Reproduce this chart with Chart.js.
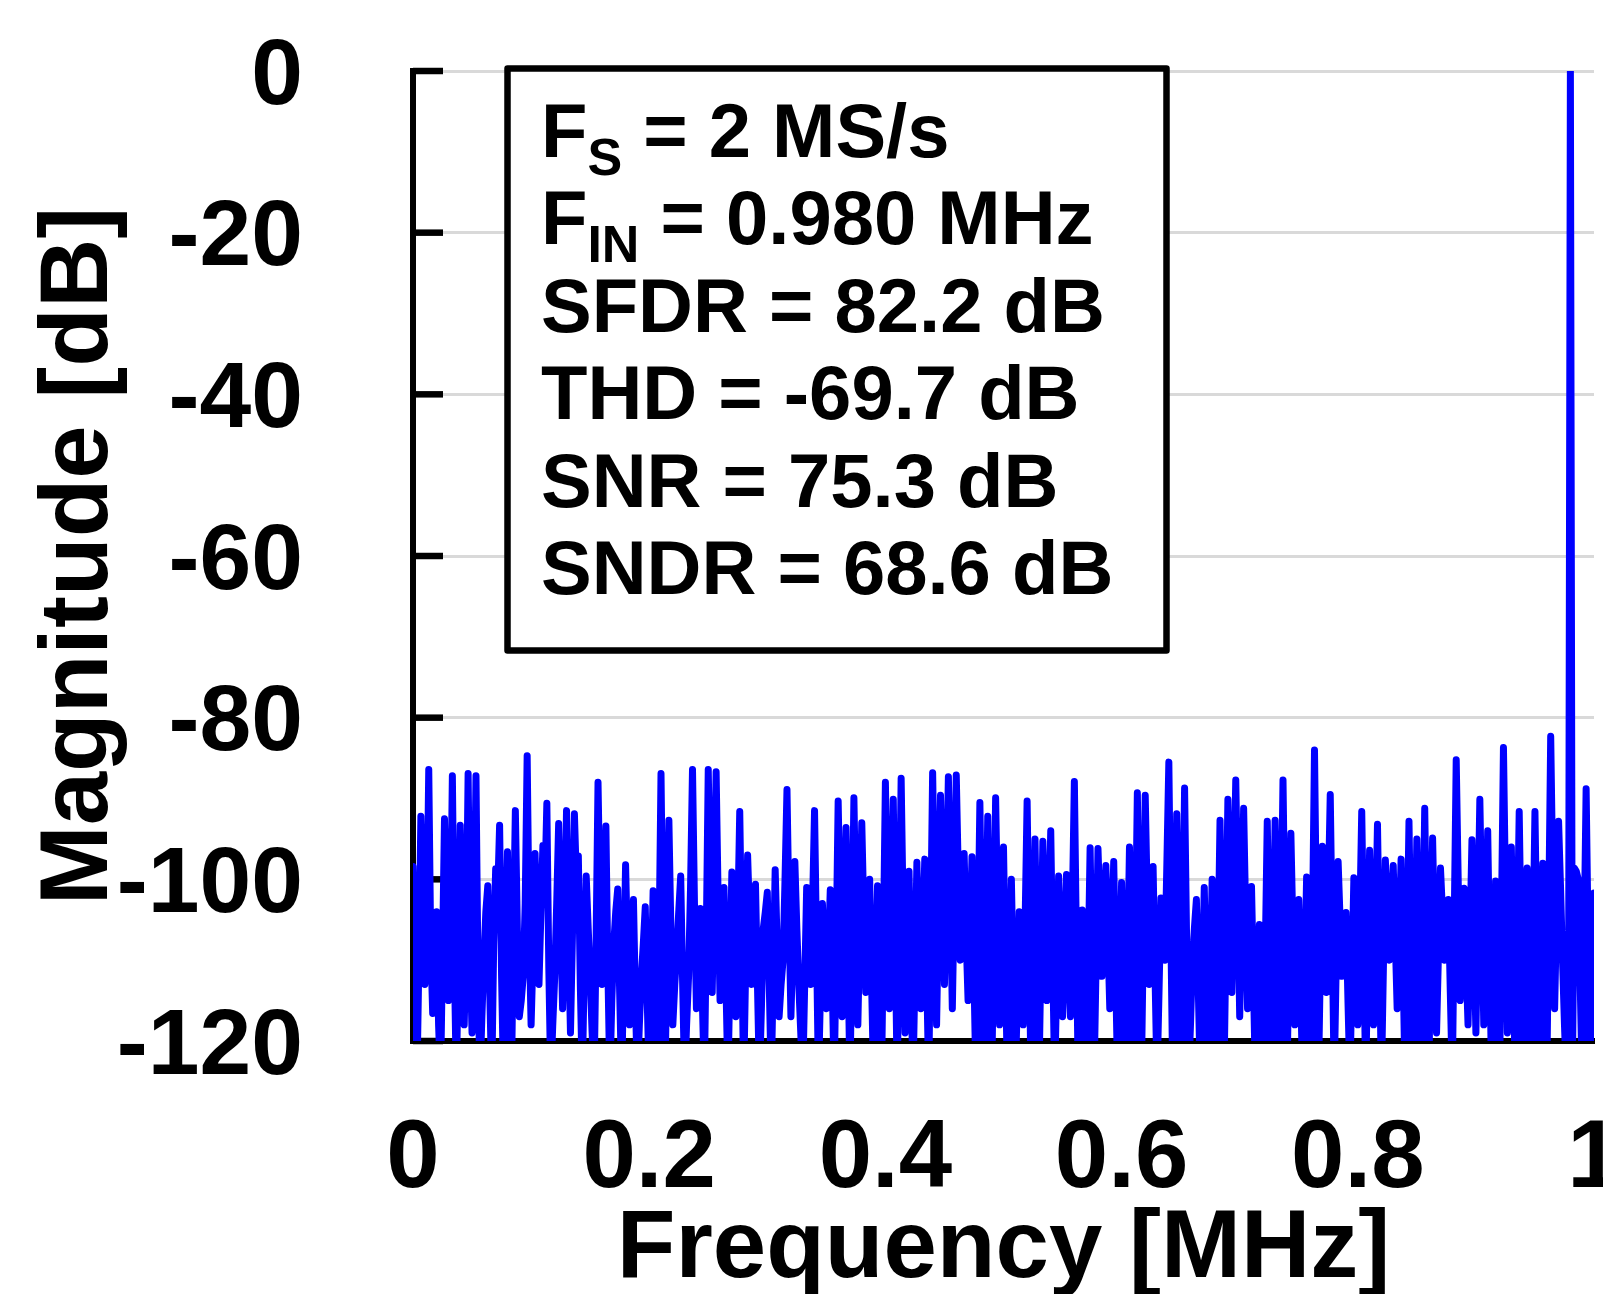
<!DOCTYPE html>
<html>
<head>
<meta charset="utf-8">
<script src="https://cdn.jsdelivr.net/npm/chart.js@4.4.1/dist/chart.umd.min.js"></script>
<style>
  html, body { margin: 0; padding: 0; background: #fff; }
</style>
</head>
<body>
<canvas id="fft" width="1603" height="1294"></canvas>
<script>
const FONT = "'Liberation Sans', Arial, Helvetica, sans-serif";

// FFT magnitude per bin (dB), bins 0 .. 1 MHz
const binCount = 600;
const magDb = [
  -98.4, -112, -125, -110, -92.2, -104, -113, -106, -86.4, -108, -116.6, -112, -104, -118, -125, -109, -92.5, -105, -115, -107,
  -87.2, -110, -125, -111, -93.3, -106, -118, -108, -86.9, -109, -119, -107, -87.2, -111, -125, -117, -110, -104, -100.8, -114,
  -125, -108, -98.7, -102, -93.3, -112, -125, -109, -96.6, -113, -125, -107, -91.5, -106, -117, -115, -112, -103, -84.7, -106,
  -118, -109, -96.8, -106, -113, -104, -95.8, -101, -90.6, -111, -125, -118, -112, -103, -93.1, -105, -116, -106, -91.5, -107,
  -119, -107, -91.9, -100, -97.1, -113, -125, -111, -99.6, -106, -112, -119, -125, -108, -88, -103, -113, -105, -93.4, -111,
  -125, -115, -108, -104, -101.2, -114, -125, -112, -98.2, -109, -118, -110, -102.5, -115, -125, -118, -112, -108, -103.4, -115,
  -125, -113, -101.4, -114, -125, -108, -86.9, -108, -125, -110, -92.7, -106, -118, -113, -109, -104, -99.6, -113, -125, -118,
  -112, -101, -86.4, -103, -116, -110, -103.6, -115, -125, -107, -86.4, -102, -114, -101, -86.7, -102, -115, -108, -101, -113,
  -125, -112, -99.1, -108, -117, -105, -91.6, -108, -125, -111, -97, -105, -113, -107, -100.6, -113, -125, -116, -106, -104,
  -101.6, -113, -125, -112, -98.8, -108, -117, -113, -110, -100, -88.9, -104, -117, -108, -97.8, -106, -113, -119, -125, -113,
  -101, -107, -113, -103, -91.5, -108, -125, -114, -103, -110, -116, -109, -101.3, -113, -125, -108, -90.3, -104, -117, -106,
  -93.6, -110, -125, -108, -89.9, -104, -118, -106, -93, -104, -114, -107, -100, -113, -125, -113, -100.8, -113, -125, -107,
  -88, -103, -116, -104, -90.1, -108, -125, -107, -87.5, -104, -119, -110, -99, -112, -125, -112, -97.9, -108, -116, -107,
  -97.5, -112, -125, -106, -86.8, -103, -118, -104, -89.6, -102, -113, -101, -87.3, -102, -116, -102, -87.1, -99, -110, -104,
  -96.8, -107, -115, -107, -97.2, -112, -125, -108, -90.5, -108, -125, -109, -92.2, -109, -125, -108, -89.9, -104, -118, -108,
  -96, -111, -125, -113, -100, -113, -125, -115, -104, -111, -118, -105, -90.3, -108, -125, -110, -95, -110, -125, -110,
  -95.3, -106, -115, -105, -94, -110, -125, -113, -99.6, -109, -117, -109, -99.4, -109, -117, -103, -87.9, -107, -125, -115,
  -103.8, -115, -125, -111, -96.1, -111, -125, -111, -96.2, -104, -112, -106, -98.3, -107, -116, -107, -97.8, -112, -125, -113,
  -100.4, -113, -125, -111, -96, -111, -125, -108, -89.3, -107, -125, -108, -89.6, -102, -113, -106, -98.4, -112, -125, -114,
  -102.3, -106, -110, -98, -85.5, -106, -125, -109, -91.9, -109, -125, -107, -88.7, -107, -125, -118, -110, -106, -102.5, -114,
  -125, -113, -101, -113, -125, -113, -100, -113, -125, -109, -92.7, -109, -125, -108, -90.1, -102, -114, -101, -87.7, -102,
  -117, -104, -91.2, -104, -116, -108, -100.9, -113, -125, -115, -105.6, -115, -125, -109, -92.8, -109, -125, -109, -92.7, -109,
  -125, -106, -87.7, -106, -125, -110, -94.3, -106, -118, -110, -102.5, -114, -125, -112, -99.7, -112, -125, -105, -84, -105,
  -125, -110, -95.9, -105, -114, -102, -89.5, -107, -125, -111, -97.8, -105, -112, -108, -104.1, -115, -125, -112, -99.8, -109,
  -118, -105, -91.6, -108, -125, -111, -96.4, -107, -118, -106, -93.2, -109, -125, -111, -97.6, -104, -110, -104, -98.3, -107,
  -116, -107, -97.5, -111, -125, -109, -92.8, -109, -125, -110, -95, -110, -125, -108, -91.2, -108, -125, -110, -94.9, -107,
  -119, -109, -98.6, -104, -110, -106, -102.5, -114, -125, -105, -85.2, -100, -115, -108, -101.1, -110, -118, -107, -95.1, -107,
  -119, -105, -90.1, -104, -118, -106, -94, -110, -125, -113, -100.2, -113, -125, -104, -83.7, -101, -119, -108, -96, -111,
  -125, -108, -91.6, -108, -125, -112, -98.6, -112, -125, -108, -91.6, -108, -125, -112, -98, -112, -125, -104, -82.3, -99,
  -116, -104, -92.8, -101, -110, -118, -125, -125, 0, -125, -98.6, -99, -100, -113, -125, -107, -88.8, -107, -125, -113,
  -101.7
];
const freqMHz = magDb.map((_, i) => i / binCount);

const xTickLabels = ["0", "0.2", "0.4", "0.6", "0.8", "1"];
const yTickLabels = ["-120", "-100", "-80", "-60", "-40", "-20", "0"];

const infoLines = [
  { main: "F", sub: "S", rest: " = 2 MS/s" },
  { main: "F", sub: "IN", rest: " = 0.980 MHz" },
  { main: "SFDR = 82.2 dB" },
  { main: "THD = -69.7 dB" },
  { main: "SNR = 75.3 dB" },
  { main: "SNDR = 68.6 dB" },
];

// short black ticks pointing into the plot
const innerTicks = {
  id: "innerTicks",
  beforeDatasetsDraw(chart) {
    const { ctx, chartArea } = chart;
    const y = chart.scales.y;
    ctx.save();
    ctx.strokeStyle = "#000";
    ctx.lineWidth = 6.5;
    y.ticks.forEach((t) => {
      const py = y.getPixelForValue(t.value);
      ctx.beginPath();
      ctx.moveTo(chartArea.left, py);
      ctx.lineTo(chartArea.left + 30, py);
      ctx.stroke();
    });
    ctx.restore();
  },
};

// the boxed summary in the upper left
const infoBox = {
  id: "infoBox",
  afterDatasetsDraw(chart) {
    const ctx = chart.ctx;
    ctx.save();
    ctx.lineJoin = "round";
    ctx.fillStyle = "#fff";
    ctx.fillRect(507.5, 68.5, 659, 582);
    ctx.strokeStyle = "#000";
    ctx.lineWidth = 6.5;
    ctx.strokeRect(507.5, 68.5, 659, 582);

    ctx.fillStyle = "#000";
    ctx.textBaseline = "alphabetic";
    ctx.textAlign = "left";
    const mainFont = "bold 76px " + FONT;
    const subFont = "bold 52px " + FONT;
    infoLines.forEach((line, k) => {
      const base = 157 + k * 87.4;
      let x = 541;
      ctx.font = mainFont;
      ctx.fillText(line.main, x, base);
      x += ctx.measureText(line.main).width;
      if (line.sub) {
        ctx.font = subFont;
        ctx.fillText(line.sub, x, base + 18);
        x += ctx.measureText(line.sub).width;
        ctx.font = mainFont;
        ctx.fillText(line.rest, x, base);
      }
    });
    ctx.restore();
  },
};

new Chart(document.getElementById("fft"), {
  type: "line",
  data: {
    labels: freqMHz,
    datasets: [
      {
        data: magDb,
        borderColor: "#0000ff",
        borderWidth: 7,
        borderJoinStyle: "round",
        borderCapStyle: "round",
        pointRadius: 0,
        tension: 0,
      },
    ],
  },
  options: {
    responsive: false,
    animation: false,
    datasets: { line: { borderWidth: 7 } },
    layout: { padding: { top: 71, right: 9, left: 0, bottom: 0 } },
    plugins: { legend: { display: false }, tooltip: { enabled: false } },
    scales: {
      x: {
        type: "linear",
        min: 0,
        max: 1,
        ticks: {
          stepSize: 0.2,
          autoSkip: false,
          maxRotation: 0,
          padding: 72,
          color: "#000",
          font: { family: FONT, size: 96, weight: "bold", lineHeight: 1 },
          callback: (v, i) => xTickLabels[i],
        },
        grid: { display: false, drawTicks: false },
        border: { display: true, color: "#000", width: 6 },
        title: {
          display: true,
          text: "Frequency [MHz]",
          color: "#000",
          font: { family: FONT, size: 96, weight: "bold", lineHeight: 0.9 },
          padding: { top: 0, bottom: 0 },
        },
        afterFit(s) {
          s.height = 253;
          s.paddingLeft = 0;
          s.paddingRight = 0;
        },
      },
      y: {
        min: -120,
        max: 0,
        ticks: {
          stepSize: 20,
          padding: 110,
          labelOffset: 7,
          color: "#000",
          font: { family: FONT, size: 93, weight: "bold", lineHeight: 1 },
          callback: (v, i) => yTickLabels[i],
        },
        grid: { color: "#d9d9d9", lineWidth: 3, drawTicks: false },
        border: { display: true, color: "#000", width: 6 },
        title: {
          display: true,
          text: "Magnitude [dB]",
          color: "#000",
          font: { family: FONT, size: 96, weight: "bold", lineHeight: 1 },
          padding: { top: 33, bottom: 0 },
        },
        afterFit(s) {
          s.width = 413;
          s.paddingTop = 0;
          s.paddingBottom = 0;
        },
      },
    },
  },
  plugins: [innerTicks, infoBox],
});
</script>
</body>
</html>
